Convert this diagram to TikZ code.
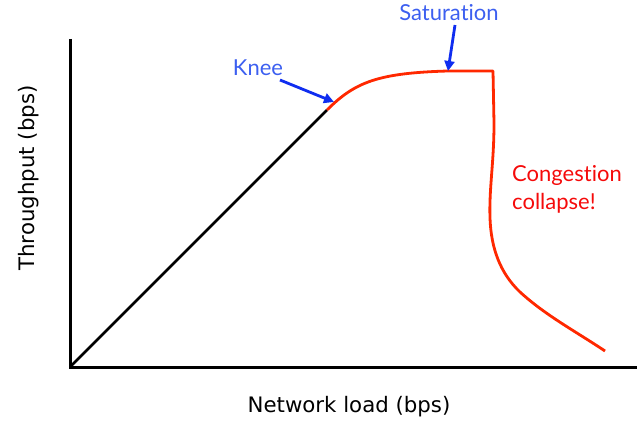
\documentclass[tikz,border=0pt]{standalone}
\usepackage{fontspec}
\setmainfont{DejaVu Sans}
\newfontfamily\labelfont[Ligatures={NoCommon}]{Lato}
\usetikzlibrary{arrows.meta}
\definecolor{curvered}{RGB}{255,40,0}
\definecolor{textred}{RGB}{245,10,10}
\definecolor{arrowblue}{RGB}{15,45,240}
\definecolor{textblue}{RGB}{60,95,240}
\tikzset{
  axis/.style={line width=3pt},
  linear/.style={line width=2.5pt},
  redcurve/.style={line width=2.8pt, curvered, line join=round},
  callout/.style={line width=2.8pt, arrowblue, -{Triangle[length=10pt,width=10pt]}},
  axislabel/.style={font=\fontsize{21.3}{25}\selectfont, inner sep=0pt},
  bluelabel/.style={font=\labelfont\fontsize{22}{26}\selectfont, textblue, inner sep=0pt},
  redlabel/.style={font=\labelfont\fontsize{22}{28}\selectfont, textred, inner sep=0pt, align=left}
}
\begin{document}
\begin{tikzpicture}[x=1pt,y=1pt]
\useasboundingbox (0,0) rectangle (642,423);
% axes
\coordinate (O) at (70,56);
\coordinate (ytop) at (70,384);
\coordinate (xend) at (637,56);
\draw[axis] (ytop) -- (O) -- (xend);
% linear part
\coordinate (knee) at (327,313);
\draw[linear] (O) -- (knee);
% red curve
\coordinate (sat) at (493,352);
\coordinate (tail) at (605,72);
\draw[redcurve] (knee) .. controls (355,341) and (378,350) .. (448,352) -- (sat)
  -- (494,300) .. controls (494,260) and (489,235) .. (490,205)
  .. controls (491,175) and (500,150) .. (520,131)
  .. controls (545,108) and (575,92) .. (tail);
% labels
\node[axislabel, anchor=base] (xlabel) at (349,11) {Network load (bps)};
\node[axislabel, rotate=90] (ylabel) at (29,245) {Throughput (bps)};
\node[bluelabel] (kneelabel) at (258,355) {Knee};
\node[bluelabel] (satlabel) at (449,410) {Saturation};
\node[redlabel, anchor=west] (collapse) at (512,234) {Congestion\\collapse!};
% callout arrows
\coordinate (kneefrom) at (280,343);
\coordinate (kneeto) at (334,321);
\coordinate (satfrom) at (455,398);
\coordinate (satto) at (448,352);
\draw[callout] (kneefrom) -- (kneeto);
\draw[callout] (satfrom) -- (satto);
\end{tikzpicture}
\end{document}
